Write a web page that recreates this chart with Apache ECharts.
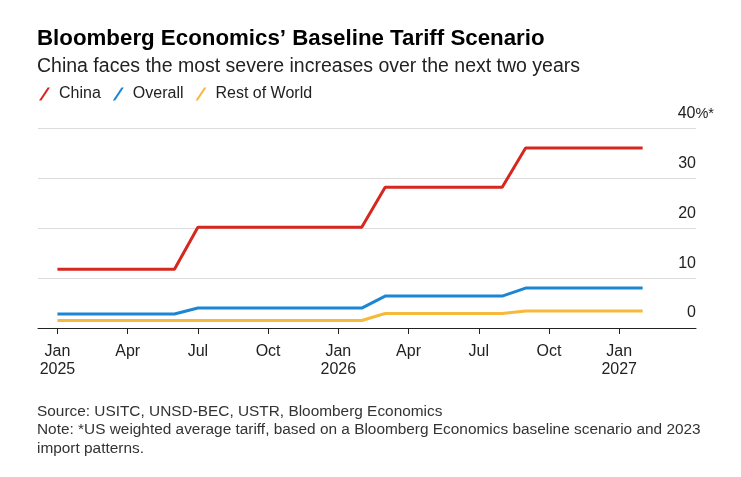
<!DOCTYPE html>
<html>
<head>
<meta charset="utf-8">
<script src="https://cdn.jsdelivr.net/npm/echarts@6/dist/echarts.min.js"></script>
<style>
html,body{margin:0;padding:0;background:#fff;}
#chart{width:741px;height:477px;}
</style>
</head>
<body>
<div id="chart"></div>
<script>
// Monthly data, Jan 2025 .. Feb 2027 (26 months)
const months = ['Jan 2025','Feb 2025','Mar 2025','Apr 2025','May 2025','Jun 2025','Jul 2025','Aug 2025','Sep 2025','Oct 2025','Nov 2025','Dec 2025',
  'Jan 2026','Feb 2026','Mar 2026','Apr 2026','May 2026','Jun 2026','Jul 2026','Aug 2026','Sep 2026','Oct 2026','Nov 2026','Dec 2026',
  'Jan 2027','Feb 2027'];
const china   = [11.8,11.8,11.8,11.8,11.8,11.8, 20.2,20.2,20.2,20.2,20.2,20.2,20.2,20.2, 28.2,28.2,28.2,28.2,28.2,28.2, 36.1,36.1,36.1,36.1,36.1,36.1];
const overall = [2.8,2.8,2.8,2.8,2.8,2.8, 4.0,4.0,4.0,4.0,4.0,4.0,4.0,4.0, 6.4,6.4,6.4,6.4,6.4,6.4, 8.0,8.0,8.0,8.0,8.0,8.0];
const restOfWorld = [1.5,1.5,1.5,1.5,1.5,1.5,1.5,1.5,1.5,1.5,1.5,1.5,1.5,1.5, 2.9,2.9,2.9,2.9,2.9,2.9, 3.4,3.4,3.4,3.4,3.4,3.4];
const xTickIdx = [0,3,6,9,12,15,18,21,24];
const xTickLabels = ['Jan\n2025','Apr','Jul','Oct','Jan\n2026','Apr','Jul','Oct','Jan\n2027'];
const yTicks = [0,10,20,30,40];

const FONT = 'Liberation Sans, Arial, sans-serif';
const toPairs = arr => arr.map((v,i)=>[i,v]);

const chart = echarts.init(document.getElementById('chart'), null, {renderer:'canvas'});
const slash = 'path://M0,13 L2.4,13 L11,0 L8.6,0 Z';
chart.setOption({
  animation:false,
  backgroundColor:'#fff',
  title:[
    {text:'Bloomberg Economics’ Baseline Tariff Scenario', left:37, top:28, padding:0,
     textStyle:{fontFamily:FONT, fontWeight:'bold', fontSize:22.3, color:'#000'}},
    {text:'China faces the most severe increases over the next two years', left:37, top:57, padding:0,
     textStyle:{fontFamily:FONT, fontWeight:'normal', fontSize:19.5, color:'#222'}},
    {text:'Source: USITC, UNSD-BEC, USTR, Bloomberg Economics\nNote: *US weighted average tariff, based on a Bloomberg Economics baseline scenario and 2023\nimport patterns.',
     left:37, top:402, padding:0,
     textStyle:{fontFamily:FONT, fontWeight:'normal', fontSize:15.4, lineHeight:18.5, color:'#333'}}
  ],
  legend:{
    left:39, top:86, padding:0, itemGap:12, itemWidth:11, itemHeight:13,
    icon: slash,
    textStyle:{fontFamily:FONT, fontSize:16, color:'#222', padding:[0,0,0,4]},
    data:['China','Overall','Rest of World']
  },
  grid:{left:38, right:45, top:128.5, bottom:149, containLabel:false},
  xAxis:{
    type:'value', min:-0.83, max:27.28,
    splitLine:{show:false},
    axisLine:{show:true, lineStyle:{color:'#222', width:1}},
    axisTick:{show:true, customValues:xTickIdx, length:6, lineStyle:{color:'#222'}},
    axisLabel:{show:true, customValues:xTickIdx, margin:14,
      formatter:(v)=>xTickLabels[xTickIdx.indexOf(v)] || '',
      fontFamily:FONT, fontSize:16, lineHeight:18.5, color:'#222'}
  },
  yAxis:{
    type:'value', position:'right', min:yTicks[0], max:yTicks[yTicks.length-1], interval:10,
    axisLine:{show:false}, axisTick:{show:false},
    splitLine:{show:true, lineStyle:{color:'#dcdcdc', width:1}},
    axisLabel:{inside:true, margin:-18, verticalAlign:'bottom',
      formatter:(v)=> v===40 ? '{v|40}{s|%*}' : '{p|'+v+'}',
      rich:{
        v:{fontFamily:FONT, fontSize:16, color:'#222', lineHeight:30},
        s:{fontFamily:FONT, fontSize:14.5, color:'#222', lineHeight:30},
        p:{fontFamily:FONT, fontSize:16, color:'#222', lineHeight:30, padding:[0,18,0,0]}
      }
    }
  },
  series:[
    {name:'China', type:'line', data:toPairs(china), showSymbol:false, symbol:'none',
     lineStyle:{color:'#d5281f', width:3}, itemStyle:{color:'#d5281f'}},
    {name:'Overall', type:'line', data:toPairs(overall), showSymbol:false, symbol:'none',
     lineStyle:{color:'#1b87d3', width:3}, itemStyle:{color:'#1b87d3'}},
    {name:'Rest of World', type:'line', data:toPairs(restOfWorld), showSymbol:false, symbol:'none',
     lineStyle:{color:'#f6b93b', width:3}, itemStyle:{color:'#f6b93b'}, z:1}
  ]
});
</script>
</body>
</html>
